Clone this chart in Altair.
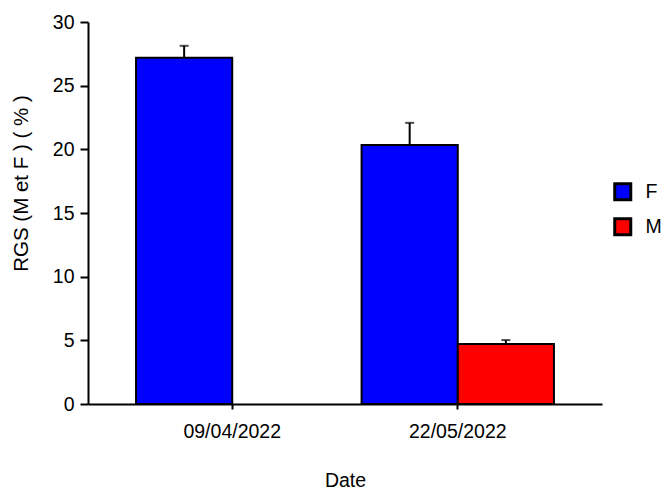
import altair as alt
import pandas as pd

# Data
dates = ["09/04/2022", "22/05/2022", "22/05/2022"]
sexes = ["F", "F", "M"]
values = [27.2, 20.35, 4.71]
errors = [0.93, 1.73, 0.31]

date_order = ["09/04/2022", "22/05/2022"]
sex_order = ["F", "M"]
colors = ["#0000ff", "#ff0000"]
y_ticks = [0, 2.5, 5, 7.5, 10, 12.5, 15, 17.5, 20, 22.5, 25, 27.5, 30]

df = pd.DataFrame({"Date": dates, "Sexe": sexes, "RGS": values, "SEM": errors})
df["top"] = df["RGS"] + df["SEM"]

FONT = "Liberation Sans"

x = alt.X(
    "Date:N",
    sort=date_order,
    scale=alt.Scale(domain=date_order, paddingInner=0.147, paddingOuter=0.213),
    axis=alt.Axis(
        title="Date", labelAngle=0, tickSize=5, tickWidth=2, tickColor="black",
        domainColor="black", domainWidth=2, labelPadding=13, titlePadding=31,
        labelFontSize=19.5, titleFontSize=19.5, labelFont=FONT, titleFont=FONT,
        labelColor="black", titleColor="black", titleFontWeight="normal",
    ),
)
xo = alt.XOffset("Sexe:N", scale=alt.Scale(domain=sex_order, paddingInner=0, paddingOuter=0))

y_axis = alt.Axis(
    title="RGS (M et F ) ( % )",
    values=y_ticks,
    labelExpr="datum.value % 5 === 0 ? datum.label : ''",
    tickSize={"condition": {"test": "datum.value % 5 === 0", "value": 8}, "value": 5},
    tickWidth=2, tickColor="black", domainColor="black", domainWidth=2,
    grid=False, labelPadding=6, labelOverlap=False,
    labelFontSize=19.5, titleFontSize=20.5, labelFont=FONT, titleFont=FONT,
    labelColor="black", titleColor="black", titleFontWeight="normal",
    titlePadding=21, titleY=161,
)
y_scale = alt.Scale(domain=[0, 30], nice=False)

base = alt.Chart(df)

bars = base.mark_bar(stroke="black", strokeWidth=2).encode(
    x=x,
    xOffset=xo,
    y=alt.Y("RGS:Q", scale=y_scale, axis=y_axis),
    color=alt.Color(
        "Sexe:N",
        scale=alt.Scale(domain=sex_order, range=colors),
        legend=alt.Legend(
            title=None, orient="none", legendX=525, legendY=160,
            symbolType="square", symbolSize=256, symbolStrokeWidth=3,
            symbolStrokeColor="black", symbolOpacity=1,
            labelFontSize=19.5, labelFont=FONT, labelColor="black",
            labelOffset=13, rowPadding=6,
        ),
    ),
)

err = base.mark_rule(color="black", strokeWidth=2).encode(
    x=x, xOffset=xo,
    y=alt.Y("RGS:Q", scale=y_scale),
    y2="top:Q",
)

caps = base.mark_tick(color="black", size=9, thickness=2).encode(
    x=x, xOffset=xo,
    y=alt.Y("top:Q", scale=y_scale),
)

chart = (
    alt.layer(err, bars, caps)
    .properties(
        width=514, height=382,
        autosize=alt.AutoSizeParams(type="none"),
        padding={"left": 80, "top": 14, "right": 62, "bottom": 87},
    )
    .configure_view(stroke="transparent", strokeWidth=0)
)

chart.save("out.html", embed_options={"renderer": "svg", "actions": False})
